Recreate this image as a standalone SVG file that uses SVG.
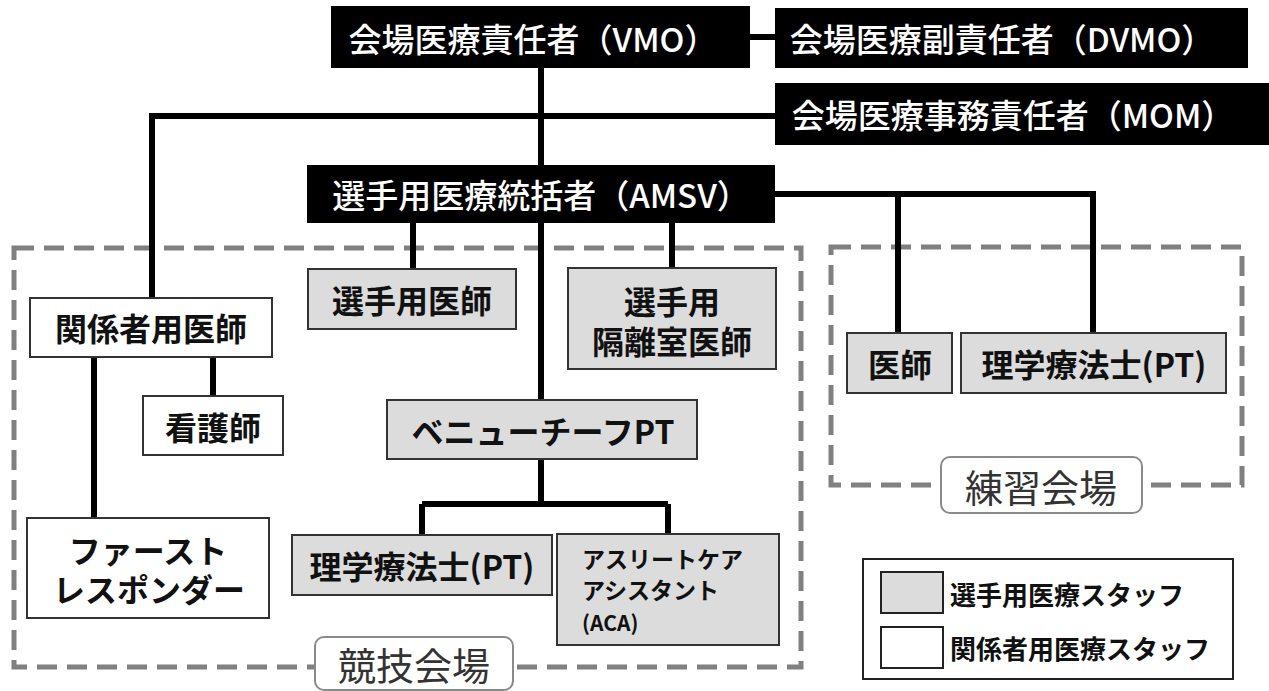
<svg xmlns="http://www.w3.org/2000/svg" width="1269" height="691" viewBox="0 0 1269 691">
<style>
text{font-family:"Noto Sans CJK JP","Noto Sans CJK SC",sans-serif;dominant-baseline:central;text-anchor:middle}
.top rect{fill:#000}
.top text{fill:#fff;font-size:33px;font-weight:500}
.g rect{fill:#dcdcdc;stroke:#333;stroke-width:2}
.w rect{fill:#fff;stroke:#333;stroke-width:2}
.n text{fill:#111;font-size:32px;font-weight:700}
.area{fill:none;stroke:#808080;stroke-width:5;stroke-dasharray:20 10}
.lab rect{fill:#fff;stroke:#8a8a8a;stroke-width:2}
.lab text{fill:#333;font-size:38px;font-weight:400}
#connectors path{fill:none;stroke:#000;stroke-width:6}
.leg text{fill:#111;font-size:26px;font-weight:700;text-anchor:start}
.aca{text-anchor:start;font-size:23px;font-weight:700;fill:#111}
</style>
<rect width="1269" height="691" fill="#fff"/>
<g id="areas">
<rect class="area" x="14" y="248" width="787" height="419"/>
<rect class="area" x="831" y="247" width="411" height="238"/>
</g>
<g id="connectors">
<path d="M750 37H775"/>
<path d="M541 68V165"/>
<path d="M775 116H152V298"/>
<path d="M775 194H1093V333M898 194V333"/>
<path d="M413 223V269M672 223V268M541 223V400"/>
<path d="M94 357V518M213 357V396"/>
<path d="M541 459V504M422 504H668M422 504V535M668 504V534"/>
</g>
<g id="vmo" class="top"><rect x="331" y="6" width="419" height="62"/><text x="533" y="38">会場医療責任者（VMO）</text></g>
<g id="dvmo" class="top"><rect x="775" y="8" width="473" height="60"/><text x="1002" y="38">会場医療副責任者（DVMO）</text></g>
<g id="mom" class="top"><rect x="775" y="83" width="494" height="62"/><text x="1013" y="114">会場医療事務責任者（MOM）</text></g>
<g id="amsv" class="top"><rect x="307" y="165" width="468" height="58"/><text x="541" y="194">選手用医療統括者（AMSV）</text></g>
<g id="kankeisha" class="n w"><rect x="30" y="298" width="242" height="59"/><text x="151" y="327">関係者用医師</text></g>
<g id="kangoshi" class="n w"><rect x="143" y="396" width="140" height="59"/><text x="213" y="426">看護師</text></g>
<g id="first" class="n w"><rect x="27" y="518" width="242" height="100"/><text x="148" y="549">ファースト</text><text x="149" y="588">レスポンダー</text></g>
<g id="senshu-ishi" class="n g"><rect x="308" y="269" width="208" height="60"/><text x="412" y="299">選手用医師</text></g>
<g id="kakuri" class="n g"><rect x="568" y="268" width="208" height="101"/><text x="672" y="300">選手用</text><text x="672" y="340">隔離室医師</text></g>
<g id="venue" class="n g"><rect x="387" y="400" width="310" height="59"/><text x="543" y="430">ベニューチーフPT</text></g>
<g id="pt" class="n g"><rect x="292" y="535" width="260" height="60"/><text x="422" y="565">理学療法士(PT)</text></g>
<g id="aca" class="g"><rect x="557" y="534" width="222" height="111"/><text class="aca" x="582" y="558">アスリートケア</text><text class="aca" x="582" y="589">アシスタント</text><text class="aca" x="582" y="622" style="font-size:21px">(ACA)</text></g>
<g id="prac-ishi" class="n g"><rect x="847" y="333" width="105" height="60"/><text x="900" y="363">医師</text></g>
<g id="prac-pt" class="n g"><rect x="961" y="333" width="265" height="60"/><text x="1094" y="363">理学療法士(PT)</text></g>
<g id="label-kyogi" class="lab"><rect x="315" y="637" width="198" height="53" rx="9"/><text x="414" y="663">競技会場</text></g>
<g id="label-renshu" class="lab"><rect x="941" y="457" width="201" height="56" rx="9"/><text x="1041" y="485">練習会場</text></g>
<g id="legend" class="leg">
<rect x="863" y="559" width="370" height="120" fill="#fff" stroke="#222" stroke-width="2"/>
<rect x="881" y="572" width="62" height="41" fill="#dcdcdc" stroke="#222" stroke-width="2"/>
<rect x="881" y="627" width="62" height="41" fill="#fff" stroke="#222" stroke-width="2"/>
<text x="950" y="593">選手用医療スタッフ</text>
<text x="950" y="647">関係者用医療スタッフ</text>
</g>
</svg>
